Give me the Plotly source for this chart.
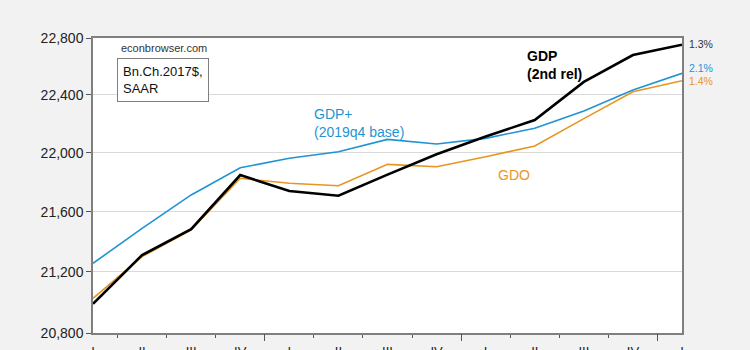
import math
import plotly.graph_objects as go

# ---- data ----
quarters = ["I", "II", "III", "IV", "I", "II", "III", "IV", "I", "II", "III", "IV", "I"]
gdp = [20990, 21310, 21483, 21848, 21740, 21708, 21851, 21990, 22112, 22225, 22491, 22679, 22752]
gdo = [21026, 21300, 21478, 21826, 21792, 21775, 21921, 21905, 21973, 22046, 22235, 22422, 22499]
gdp_plus = [21256, 21489, 21713, 21898, 21962, 22007, 22092, 22060, 22099, 22169, 22288, 22434, 22551]
y_ticks = [20800, 21200, 21600, 22000, 22400, 22800]
end_labels = ["1.3%", "2.1%", "1.4%"]

BLUE = "#1f94d2"
ORANGE = "#e8951f"
FONT = "Liberation Sans, Arial, sans-serif"

idx = list(range(len(quarters)))
year_bounds = [3.5, 7.5, 11.5]
minor_ticks = [i + 0.5 for i in range(len(quarters) - 1) if (i + 0.5) not in year_bounds]

fig = go.Figure()
fig.add_trace(go.Scatter(x=idx, y=gdp_plus, mode="lines", line=dict(color=BLUE, width=1.6),
                         showlegend=False, hoverinfo="skip"))
fig.add_trace(go.Scatter(x=idx, y=gdo, mode="lines", line=dict(color=ORANGE, width=1.6),
                         showlegend=False, hoverinfo="skip"))
fig.add_trace(go.Scatter(x=idx, y=gdp, mode="lines", line=dict(color="black", width=2.6),
                         showlegend=False, hoverinfo="skip", xaxis="x2"))

fig.update_layout(
    template="none",
    width=750, height=350,
    margin=dict(l=93, r=68, t=38, b=17, autoexpand=False),
    paper_bgcolor="#f2f2f2",
    plot_bgcolor="white",
    font=dict(family=FONT, color="#222222"),
    xaxis=dict(
        automargin=False,
        range=[0, len(quarters) - 1],
        tickmode="array", tickvals=idx, ticktext=quarters,
        ticks="", ticklabelstandoff=6,
        tickfont=dict(size=13, color="#222222"),
        showgrid=False, zeroline=False,
        showline=True, mirror=True, linecolor="#7f7f7f", linewidth=1.5,
        minor=dict(tickmode="array", tickvals=minor_ticks, ticks="outside",
                   ticklen=3, tickwidth=1, tickcolor="#555555", showgrid=False),
    ),
    xaxis2=dict(
        automargin=False,
        range=[0, len(quarters) - 1], overlaying="x", anchor="y", side="bottom",
        tickmode="array", tickvals=year_bounds, ticks="outside", ticklen=7,
        tickwidth=1, tickcolor="#555555",
        showticklabels=False, showgrid=False, zeroline=False, showline=False,
    ),
    yaxis=dict(
        automargin=False,
        type="log",
        range=[math.log10(y_ticks[0]), math.log10(y_ticks[-1])],
        tickmode="array", tickvals=y_ticks, ticktext=[f"{v:,}" for v in y_ticks],
        ticks="outside", ticklen=5, tickwidth=1, tickcolor="#555555",
        tickfont=dict(size=14, color="#222222"),
        showgrid=True, gridcolor="#d9d9d9", gridwidth=1,
        zeroline=False, showline=True, mirror=True, linecolor="#7f7f7f", linewidth=1.5,
    ),
)

ann = []
ann.append(dict(text="econbrowser.com", x=0.120, y=0.965, xref="paper", yref="paper",
                xanchor="center", yanchor="middle", showarrow=False,
                font=dict(size=11, color="#333333")))
ann.append(dict(text="Bn.Ch.2017$,<br>SAAR", x=0.118, y=0.8566, xref="paper", yref="paper",
                xanchor="center", yanchor="middle", align="left", showarrow=False,
                bordercolor="#7f7f7f", borderwidth=1, borderpad=5, bgcolor="white",
                font=dict(size=13, color="#111111")))
ann.append(dict(text="<b>GDP</b><br><b>(2nd rel)</b>", x=0.7334, y=0.9095, xref="paper", yref="paper",
                xanchor="left", yanchor="middle", align="left", showarrow=False,
                font=dict(size=14, color="black")))
ann.append(dict(text="GDP+<br>(2019q4 base)", x=0.3713, y=0.7108, xref="paper", yref="paper",
                xanchor="left", yanchor="middle", align="left", showarrow=False,
                font=dict(size=14, color=BLUE)))
ann.append(dict(text="GDO", x=0.684, y=0.5356, xref="paper", yref="paper",
                xanchor="left", yanchor="middle", align="left", showarrow=False,
                font=dict(size=14, color=ORANGE)))
for txt, yy, col in zip(end_labels, [0.9786, 0.8993, 0.8542], ["#333333", BLUE, ORANGE]):
    ann.append(dict(text=txt, x=1.008, y=yy, xref="paper", yref="paper",
                    xanchor="left", yanchor="middle", showarrow=False,
                    font=dict(size=10.5, color=col)))
fig.update_layout(annotations=ann)

fig.write_html("out.html")
